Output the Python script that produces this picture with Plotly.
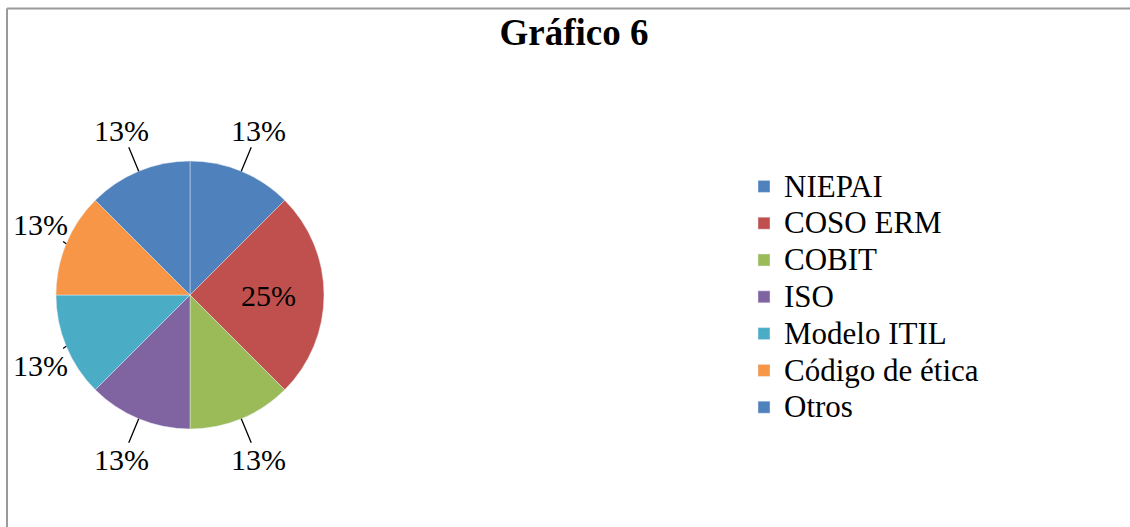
import math
import plotly.graph_objects as go

W, H = 1130, 527

categories = ["NIEPAI", "COSO ERM", "COBIT", "ISO", "Modelo ITIL", "Código de ética", "Otros"]
values = [1, 2, 1, 1, 1, 1, 1]
colors = ["#4F81BD", "#C0504D", "#9BBB59", "#8064A2", "#4BACC6", "#F79646", "#4F81BD"]
title_text = "Gráfico 6"

FONT = "Liberation Serif, Times New Roman, serif"
LABEL_SIZE = 30

# pie geometry (pixels)
cx, cy, r = 190, 295, 134

total = sum(values)
fracs = [v / total for v in values]
pct_text = [f"{math.floor(f * 100 + 0.5)}%" for f in fracs]
big = [v == max(values) for v in values]

# inside label only for the large slice (pie's own text); the others are placed outside
texttemplate = ["%{percent:.0%}" if b else "" for b in big]

legend_labels = [f"<span style='font-size:31px'>{c}</span>" for c in categories]

fig = go.Figure(go.Pie(
    labels=legend_labels,
    values=values,
    sort=False,
    direction="clockwise",
    rotation=0,
    marker=dict(colors=colors, line=dict(width=0.8, color="rgba(235,240,248,0.55)")),
    texttemplate=texttemplate,
    textposition="inside",
    textfont=dict(family=FONT, size=LABEL_SIZE, color="#000000"),
    insidetextorientation="horizontal",
    domain=dict(x=[(cx - r) / W, (cx + r) / W], y=[1 - (cy + r) / H, 1 - (cy - r) / H]),
    hoverinfo="percent",
))

# outside labels with leader lines, positioned from each slice's mid-angle,
# kept inside the chart area on the left
annotations = []
tw, th = 56, 34  # approximate label box size
gap = 18
left_limit = 12
cum = 0.0
for f, txt, b in zip(fracs, pct_text, big):
    mid = (cum + f / 2) * 2 * math.pi
    cum += f
    if b:
        continue
    ux, uy = math.sin(mid), -math.cos(mid)  # screen direction (y down)
    px, py = cx + r * ux, cy + r * uy
    support = tw / 2 * abs(ux) + th / 2 * abs(uy)
    dist = gap + support
    lx, ly = px + ux * dist, py + uy * dist
    lx = max(lx, left_limit + tw / 2)
    annotations.append(dict(
        x=px / W, y=1 - py / H, xref="paper", yref="paper",
        text=txt, showarrow=True, arrowhead=0, arrowwidth=1.3, arrowcolor="#000000",
        ax=lx - px, ay=ly - py, axref="pixel", ayref="pixel",
        standoff=0, borderpad=0,
        font=dict(family=FONT, size=LABEL_SIZE, color="#000000"),
    ))

fig.update_layout(
    width=W, height=H,
    margin=dict(l=0, r=0, t=0, b=0),
    paper_bgcolor="white",
    plot_bgcolor="white",
    font=dict(family=FONT, color="#000000"),
    title=dict(text="<b>" + title_text + "</b>", x=574 / W, xanchor="center",
               y=1 - 32 / H, yanchor="middle",
               font=dict(family=FONT, size=37, color="#000000")),
    legend=dict(x=744 / W, xanchor="left", y=1 - 163 / H, yanchor="top",
                font=dict(family=FONT, size=26, color="#000000"),
                itemwidth=30, traceorder="normal", bgcolor="rgba(0,0,0,0)"),
    showlegend=True,
    annotations=annotations,
    shapes=[
        dict(type="line", xref="paper", yref="paper", x0=7 / W, x1=1.2,
             y0=1 - 8.5 / H, y1=1 - 8.5 / H, line=dict(color="#9a9a9a", width=2)),
        dict(type="line", xref="paper", yref="paper", x0=7 / W, x1=7 / W,
             y0=-0.2, y1=1 - 8.5 / H, line=dict(color="#9a9a9a", width=2)),
    ],
)

fig.write_html("out.html")
